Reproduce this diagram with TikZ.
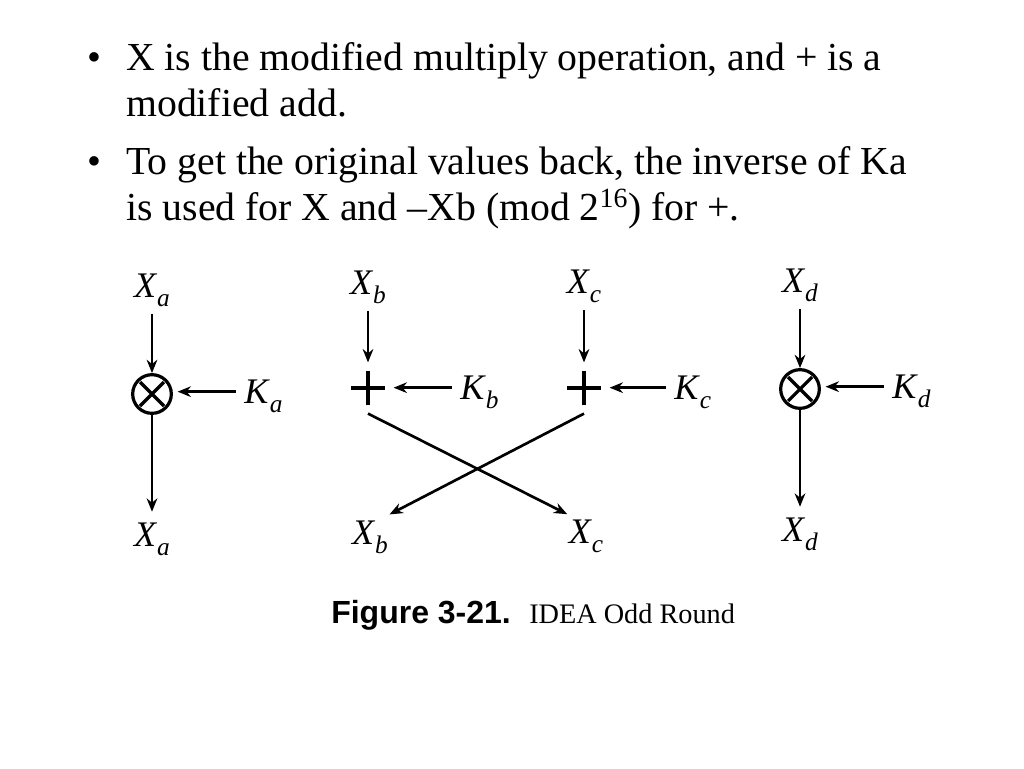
\documentclass[tikz,border=0pt]{standalone}
\usepackage{fontspec}
\setmainfont{Liberation Serif}
\newfontfamily\capfont{Liberation Sans}
\usetikzlibrary{arrows.meta}
\newcommand{\sublab}[2]{\textit{#1}\raisebox{-7pt}{\fontsize{19}{19}\selectfont\textit{#2}}}
\tikzset{
    slide/.style={anchor=base west, inner sep=0pt, font=\fontsize{29.8}{34}\selectfont},
    varlab/.style={anchor=base, inner xsep=1pt, inner ysep=5.5pt, text height=20pt, text depth=7pt, font=\fontsize{27}{30}\selectfont},
    keylab/.style={anchor=base west, inner xsep=6pt, inner ysep=0pt, text height=20pt, text depth=3pt, font=\fontsize{27}{30}\selectfont},
    flow/.style={line width=2pt, -{Stealth[length=10pt,width=8pt]}},
    mulop/.style={circle, draw, line width=2.4pt, minimum size=29pt, inner sep=0pt,
        path picture={\draw[line width=2.4pt] (path picture bounding box.center) +(-9pt,-9pt) -- +(9pt,9pt) +(-9pt,9pt) -- +(9pt,-9pt);}},
    addop/.style={minimum size=38pt, inner sep=0pt,
        path picture={\draw[line width=2.5pt] (path picture bounding box.center) +(-13pt,0) -- +(13pt,0) +(0,-13pt) -- +(0,13pt);}}
}
\begin{document}
\begin{tikzpicture}[x=0.75pt,y=-0.75pt]
    \useasboundingbox (0,0) rectangle (1024,768);

    % Bullet text
    \node[slide] (bulA) at (87,70) {•};
    \node[slide] (lineA) at (126,70) {X is the modified multiply operation, and + is a};
    \node[slide] (lineB) at (126,116) {modified add.};
    \node[slide] (bulB) at (87,174) {•};
    \node[slide] (lineC) at (126,174) {To get the original values back, the inverse of Ka};
    \node[slide] (lineD) at (126,220) {is used for X and –Xb (mod 2\textsuperscript{16}) for +.};

    % Operators
    \node[mulop] (mulA) at (152,394) {};
    \node[addop] (addB) at (368,388) {};
    \node[addop] (addC) at (584,388) {};
    \node[mulop] (mulD) at (800,389) {};

    % Inputs and outputs
    \foreach \name/\x/\y/\a/\b in {inA/152/297/X/a, inB/368/294/X/b, inC/584/293/X/c, inD/800/292/X/d,
        outA/152/546/X/a, outB/370/544/X/b, outC/586/543/X/c, outD/800/541/X/d} {
        \node[varlab] (\name) at (\x,\y) {\sublab{\a}{\b}};
    }
    % Keys
    \foreach \name/\x/\y/\a/\b in {keyA/236/403/K/a, keyB/452/399/K/b, keyC/666/399/K/c, keyD/884/398/K/d} {
        \node[keylab] (\name) at (\x,\y) {\sublab{\a}{\b}};
    }

    % Vertical arrows
    \draw[flow] (inA.south) -- (mulA.north);
    \draw[flow] (mulA.south) -- (outA.north -| mulA.south);
    \draw[flow] (inB.south) -- (addB.north);
    \draw[flow] (inC.south) -- (addC.north);
    \draw[flow] (inD.south) -- (mulD.north);
    \draw[flow] (mulD.south) -- (outD.north -| mulD.south);

    % Key arrows
    \draw[flow, shorten >=3.5pt] (keyA.west) -- (keyA.west -| mulA.east);
    \draw[flow] (keyB.west) -- (keyB.west -| addB.east);
    \draw[flow] (keyC.west) -- (keyC.west -| addC.east);
    \draw[flow, shorten >=3.5pt] (keyD.west) -- (keyD.west -| mulD.east);

    % Crossing
    \draw[flow] (addB.south) -- (outC.133);
    \draw[flow] (addC.south) -- (outB.47);

    % Caption
    \node[anchor=base west, inner sep=0pt, font=\fontsize{24}{28}\selectfont\capfont\bfseries] (capA) at (331,623) {Figure 3-21.};
    \node[anchor=base west, inner sep=0pt, font=\fontsize{21.2}{24}\selectfont] (capB) at (529,623) {IDEA Odd Round};
\end{tikzpicture}
\end{document}
